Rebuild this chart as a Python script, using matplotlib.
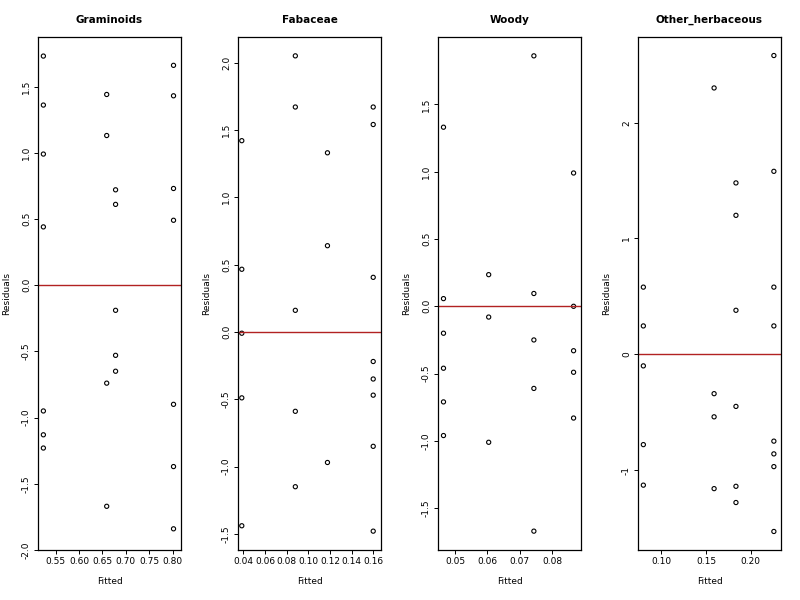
import matplotlib
matplotlib.use("Agg")
import matplotlib.pyplot as plt

titles = ["Graminoids", "Fabaceae", "Woody", "Other_herbaceous"]

g_x = [0.5235]*7 + [0.659]*4 + [0.678]*5 + [0.802]*7
g_y = [1.73, 1.36, 0.99, 0.44, -0.95, -1.13, -1.23,
       1.44, 1.13, -0.74, -1.67,
       0.72, 0.61, -0.19, -0.53, -0.65,
       1.66, 1.43, 0.73, 0.49, -0.90, -1.37, -1.84]

f_x = [0.0385]*5 + [0.088]*5 + [0.1177]*3 + [0.160]*8
f_y = [1.42, 0.465, -0.01, -0.49, -1.44,
       2.05, 1.67, 0.16, -0.59, -1.15,
       1.33, 0.64, -0.97,
       1.67, 1.54, 0.405, -0.22, -0.35, -0.47, -0.85, -1.48]

w_x = [0.0464]*6 + [0.0604]*3 + [0.0744]*5 + [0.0867]*5
w_y = [1.33, 0.057, -0.20, -0.46, -0.71, -0.96,
       0.235, -0.08, -1.01,
       1.86, 0.095, -0.25, -0.61, -1.67,
       0.99, 0.0, -0.33, -0.49, -0.83]

o_x = [0.0797]*5 + [0.159]*4 + [0.1835]*6 + [0.226]*8
o_y = [0.58, 0.245, -0.10, -0.78, -1.13,
       2.30, -0.34, -0.54, -1.16,
       1.48, 1.20, 0.38, -0.45, -1.14, -1.28,
       2.58, 1.58, 0.58, 0.245, -0.75, -0.86, -0.97, -1.53]

xs = [g_x, f_x, w_x, o_x]
ys = [g_y, f_y, w_y, o_y]
xlims = [(0.512, 0.818), (0.035, 0.1672), (0.0447, 0.0890), (0.0737, 0.234)]
ylims = [(-1.978, 1.874), (-1.62, 2.19), (-1.81, 2.00), (-1.69, 2.74)]
xticks = [[0.55, 0.60, 0.65, 0.70, 0.75, 0.80],
          [0.04, 0.06, 0.08, 0.10, 0.12, 0.14, 0.16],
          [0.05, 0.06, 0.07, 0.08],
          [0.10, 0.15, 0.20]]
xfmt = ["{:.2f}", "{:.2f}", "{:.2f}", "{:.2f}"]
yticks = [[-2.0, -1.5, -1.0, -0.5, 0.0, 0.5, 1.0, 1.5],
          [-1.5, -1.0, -0.5, 0.0, 0.5, 1.0, 1.5, 2.0],
          [-1.5, -1.0, -0.5, 0.0, 0.5, 1.0, 1.5],
          [-1, 0, 1, 2]]
yfmt = ["{:.1f}", "{:.1f}", "{:.1f}", "{:.0f}"]

fig = plt.figure(figsize=(8, 6), dpi=100)
W, H = 800, 600
for i in range(4):
    left = 38 + 200*i
    ax = fig.add_axes([left/W, 1 - 550/H, 143/W, 513/H])
    ax.scatter(xs[i], ys[i], s=9, facecolors="none", edgecolors="black", linewidths=0.8)
    ax.axhline(0, color="#b22222", lw=1)
    ax.set_xlim(*xlims[i]); ax.set_ylim(*ylims[i])
    ax.set_xticks(xticks[i])
    ax.set_xticklabels([xfmt[i].format(v) for v in xticks[i]], fontsize=6.5)
    ax.set_yticks(yticks[i])
    ax.set_yticklabels([yfmt[i].format(v) for v in yticks[i]], fontsize=6.5, rotation=90, va="center")
    ax.tick_params(length=3, width=0.7, pad=2)
    ax.set_title(titles[i], fontsize=7.5, fontweight="bold", pad=10)
    ax.set_xlabel("Fitted", fontsize=6.5, labelpad=8)
    ax.set_ylabel("Residuals", fontsize=6.5, labelpad=8)
    for s in ax.spines.values():
        s.set_linewidth(0.9)

fig.savefig("out.png", dpi=100)
